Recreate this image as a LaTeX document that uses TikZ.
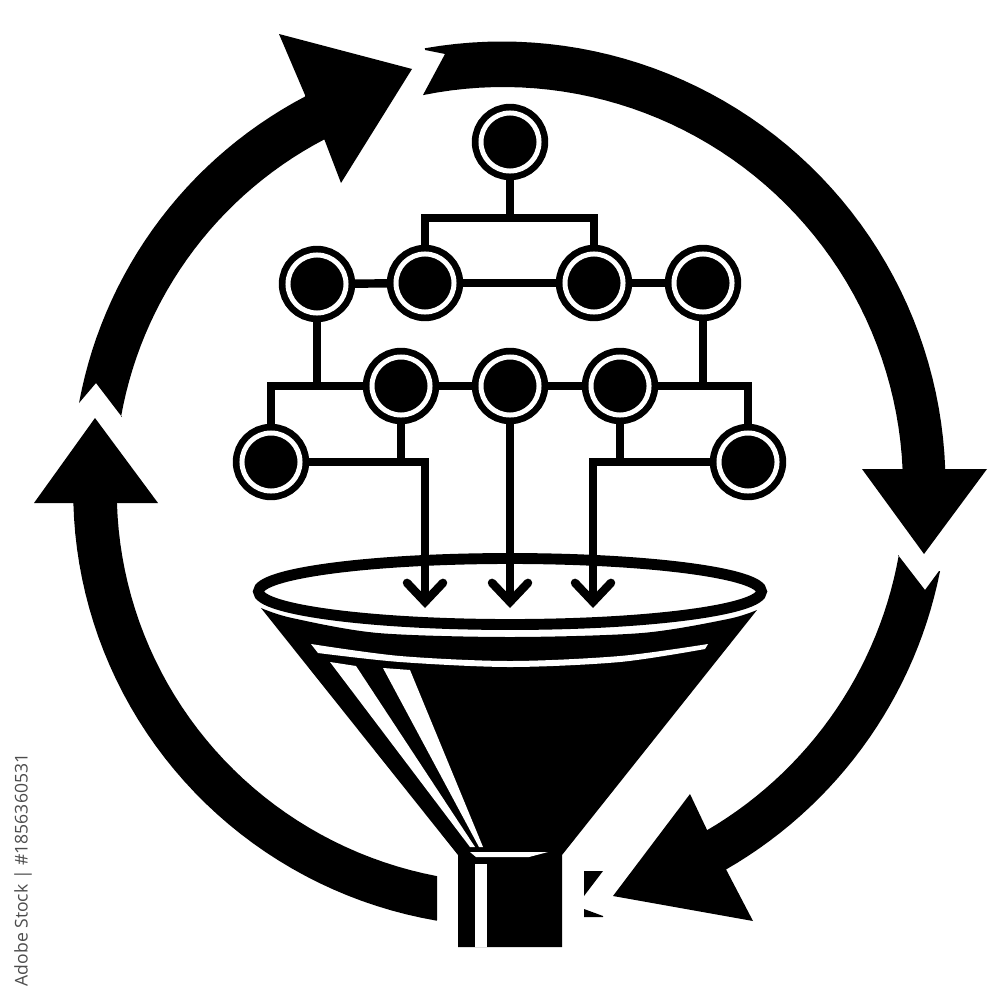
\documentclass[tikz,border=0pt]{standalone}
\usepackage{fontspec}
\newfontfamily\creditfont{Open Sans}
\usetikzlibrary{arrows.meta,calc}
\tikzset{
  hub/.style={circle, fill=black, draw=black, line width=1.9pt, double=white, double distance=1.42pt, minimum size=0.58cm, inner sep=0pt},
  link/.style={black, line width=2.4pt},
  flow/.style={black, line width=2.4pt, -{Straight Barb[length=1.9mm,width=3.6mm,line cap=round]}},
  rim/.style={black, line width=3.1pt},
  band/.style={fill=black, draw=none},
  glint/.style={fill=white, draw=none}
}
\begin{document}
\begin{tikzpicture}[x=0.01cm, y=-0.01cm]
\useasboundingbox (0,0) rectangle (1000,1000);

% ring of four arrows
\fill[band] (425,50) -- (445,54) -- (423,95)
  -- plot[domain=-101.5:-2.6, samples=50] ({503+400*cos(\x)},{487+400*sin(\x)})
  -- (902,469) -- (862,469) -- (924,554) -- (987,469) -- (945,469)
  -- plot[domain=-2:-100, samples=50] ({502+443.5*cos(\x)},{485+443.5*sin(\x)}) -- cycle;

\fill[band] (898,555) -- (925,590) -- (939,571)
  -- plot[domain=11.2:60.1, samples=30] ({505+443.5*cos(\x)},{485+443.5*sin(\x)})
  -- (753,921) -- (613,896) -- (690,794) -- (708,832)
  -- plot[domain=59.7:10.1, samples=30] ({505+400*cos(\x)},{485+400*sin(\x)}) -- cycle;

\fill[band] (437,876) -- (437,920)
  -- plot[domain=98.9:177.6, samples=40] ({505+(441-(\x-99)*0.114)*cos(\x)},{485+(441-(\x-99)*0.114)*sin(\x)})
  -- (34,503) -- (95,418) -- (158,503) -- (117,503)
  -- plot[domain=177.3:99.9, samples=40] ({505+(397-(\x-99.9)*0.11)*cos(\x)},{485+(397-(\x-99.9)*0.11)*sin(\x)}) -- cycle;

\fill[band] (79,403) -- (96,383) -- (122,417)
  -- plot[domain=-169.9:-117.6, samples=30] ({505+390*cos(\x)},{485+390*sin(\x)})
  -- (341,183) -- (412,69) -- (279,34) -- (305,95)
  -- plot[domain=-117.2:-169.1, samples=30] ({505+(433.8+(\x+169.1)*0.06)*cos(\x)},{485+(433.8+(\x+169.1)*0.06)*sin(\x)}) -- cycle;

% what is left of the ring beside the neck
\fill[band] (584,871) -- (603,871) -- (584,896) -- cycle;
\fill[band] (584,909) -- (603,916) -- (603,917) -- (584,917) -- cycle;

% funnel
\fill[band] plot[smooth] coordinates {(261,608) (292,618) (378,633) (510,637) (642,633) (728,619) (757,610)}
  -- (562,855) -- (562,947) -- (458,947) -- (458,855) -- cycle;
\fill[glint] plot[smooth] coordinates {(311,644) (400,656) (510,661) (620,656) (708,644)}
  -- (705,649) -- plot[smooth] coordinates {(705,649) (620,662) (510,667) (400,662) (318,653)} -- cycle;
\fill[glint] (330,662) -- (356,666) -- (475,847) -- (470,847) -- cycle;
\fill[glint] (383,668) -- (410,670) -- (483,847) -- (479,847) -- cycle;
\fill[glint] (470,852) -- (548,852) -- (529,857) -- (476,857) -- cycle;
\fill[glint] (475,864) rectangle (487,947);
\draw[rim] (510,591.5) ellipse [x radius=251.5, y radius=33];

% nodes of the tree
\node[hub] (top) at (510,142) {};
\node[hub] (upa) at (317,284) {};
\node[hub] (upb) at (425,283) {};
\node[hub] (upc) at (594,283) {};
\node[hub] (upd) at (703,283) {};
\node[hub] (mida) at (401,386) {};
\node[hub] (midb) at (510,386) {};
\node[hub] (midc) at (620,386) {};
\node[hub] (lowa) at (271,462) {};
\node[hub] (lowb) at (748,462) {};

\coordinate (split) at (510,218);
\coordinate (bara) at (317,387);
\coordinate (bard) at (703,387);
\coordinate (joina) at (401,463);
\coordinate (joinc) at (620,463);
\coordinate (outa) at (425,608);
\coordinate (outb) at (510,608);
\coordinate (outc) at (593,608);

\draw[link] (top) -- (split);
\draw[link] (upb) |- (split) -| (upc);
\draw[link] (upa) -- (upb);
\draw[link] (upb) -- (upc);
\draw[link] (upc) -- (upd);
\draw[link] (upa) -- (bara);
\draw[link] (upd) -- (bard);
\draw[link] (lowa) |- (mida);
\draw[link] (lowb) |- (midc);
\draw[link] (mida) -- (midb);
\draw[link] (midb) -- (midc);
\draw[link] (mida) -- (joina);
\draw[link] (midc) -- (joinc);

\draw[flow] (lowa) -| (outa);
\draw[flow] (midb) -- (outb);
\draw[flow] (lowb) -| (outc);

\node[rotate=90, text=black!70, font=\creditfont\fontsize{5}{6}\selectfont, inner sep=0pt] (credit) at (23,870) {Adobe Stock | \#1856360531};
\end{tikzpicture}
\end{document}
